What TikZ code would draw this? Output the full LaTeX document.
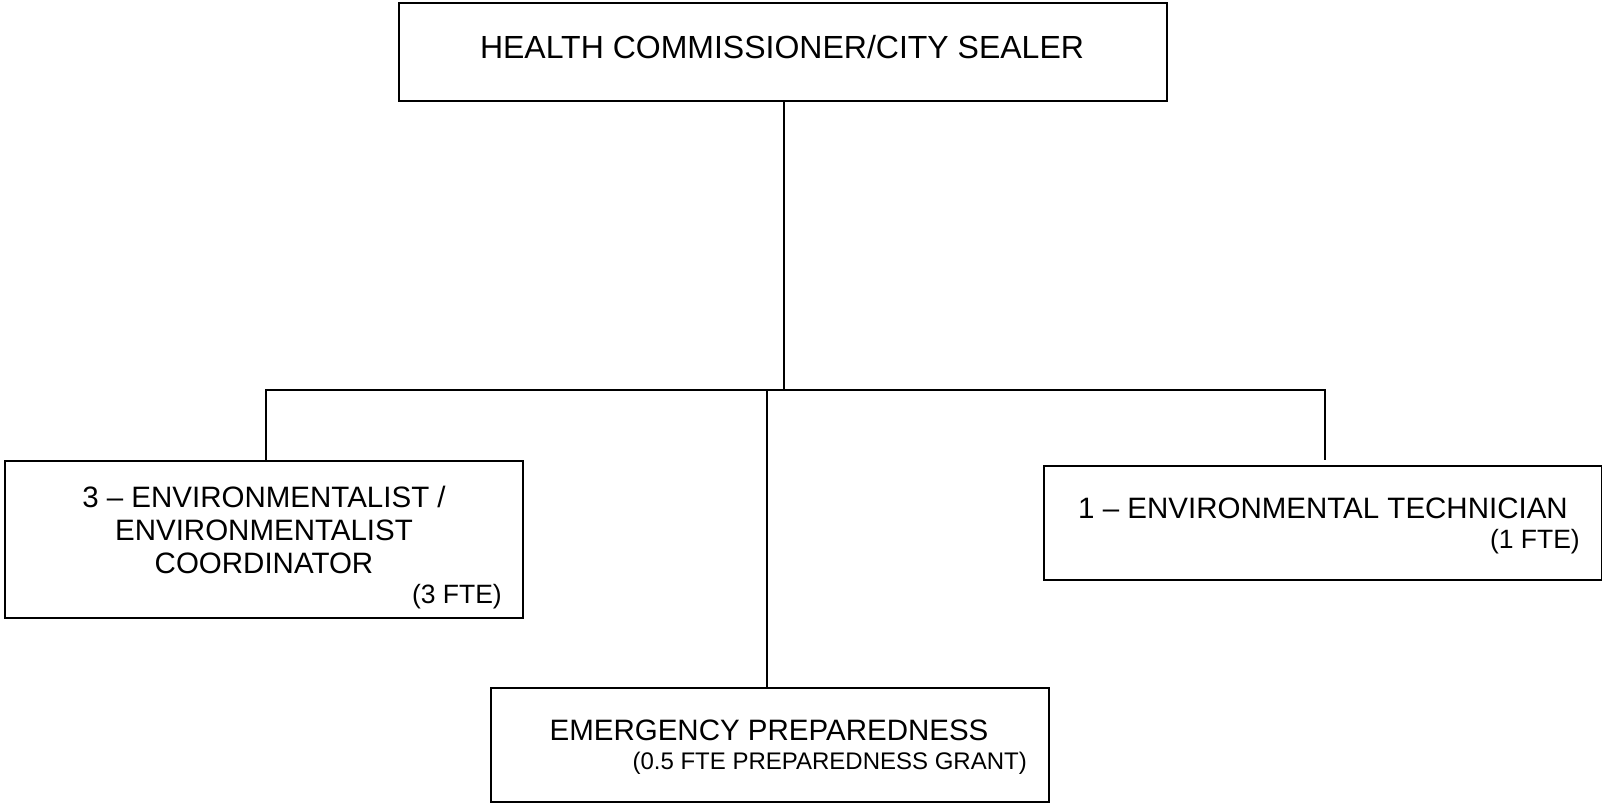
\documentclass[tikz,border=0pt]{standalone}
\usepackage{fontspec}
\setmainfont{Liberation Sans}
\begin{document}
\begin{tikzpicture}[x=1pt,y=-1pt,
  box/.style={draw=black,line width=1.5pt,rectangle,inner sep=0pt,anchor=north west},
  title/.style={font=\fontsize{32}{36}\selectfont,inner sep=0pt},
  big/.style={font=\fontsize{29.5}{33}\selectfont,inner sep=0pt},
  small/.style={font=\fontsize{26.5}{30}\selectfont,inner sep=0pt},
  smaller/.style={font=\fontsize{24}{28}\selectfont,inner sep=0pt},
  conn/.style={line width=1.5pt}]
\useasboundingbox (0,0) rectangle (1602,804);
\node[box,minimum width=768pt,minimum height=98pt] (top) at (398,2) {};
\node[box,minimum width=518pt,minimum height=157pt] (left) at (4,460) {};
\node[box,minimum width=558pt,minimum height=114pt] (mid) at (490,687) {};
\node[box,minimum width=558pt,minimum height=114pt] (right) at (1043,465) {};
\node[title] (ttop) at (782,47) {HEALTH COMMISSIONER/CITY SEALER};
\node[big] (tl1) at (264,497) {3 – ENVIRONMENTALIST /};
\node[big] (tl2) at (264,530) {ENVIRONMENTALIST};
\node[big] (tl3) at (264,563) {COORDINATOR};
\node[small,anchor=east] (tl4) at (502,597) {(3 FTE)};
\node[big] (tr1) at (1323,508) {1 – ENVIRONMENTAL TECHNICIAN};
\node[small,anchor=east] (tr2) at (1580,542) {(1 FTE)};
\node[big] (tm1) at (769,730) {EMERGENCY PREPAREDNESS};
\node[smaller,anchor=east] (tm2) at (1027,763) {(0.5 FTE PREPAREDNESS GRANT)};
\coordinate (hub) at (784,390);
\coordinate (lc) at (266,390);
\coordinate (mc) at (767,390);
\coordinate (rc) at (1325,390);
\coordinate (rend) at (1325,460);
\draw[conn] (top.south -| hub) -- (hub);
\draw[conn] (lc |- left.north) -- (lc) -- (rc) -- (rend);
\draw[conn] (mc) -- (mc |- mid.north);
\end{tikzpicture}
\end{document}
